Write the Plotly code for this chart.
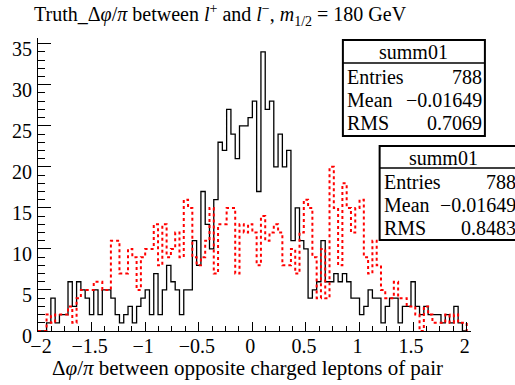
import numpy as np
import plotly.graph_objects as go

# ---- data ----
x_min, x_max, n_bins = -2.0, 2.0, 100
black_counts = [0, 0, 1, 4, 1, 2, 2, 6, 3, 6, 5, 4, 2, 5, 2, 5, 5,
                4, 2, 1, 2, 3, 1, 3, 4, 5, 2, 7, 2, 5, 8, 6, 5, 2, 5,
                5, 11, 8, 17, 13, 10, 16, 23, 22, 27, 24, 21, 25, 25, 26,
                28, 17, 34, 27, 28, 20, 24, 20, 22,
                11, 15, 11, 10, 4, 5, 6, 11, 6, 6, 7, 6, 7, 6, 4, 4, 2, 3, 5, 4, 4, 1, 3, 4, 4,
                1, 3, 3, 6, 3, 2, 3, 2, 2, 2, 1, 2, 1, 3, 1, 0]
red_counts = [0, 0, 2, 1, 2, 2, 2, 3, 1, 4, 5, 5, 5, 6, 6, 5, 5, 11, 11, 7,
              7, 10, 9, 5, 9, 10, 10, 13, 8, 13, 9, 10, 12, 9, 16, 15, 9, 8, 9, 11,
              15, 7, 13, 13, 15, 15, 7, 13, 12, 13, 12, 8, 14, 11, 12, 13, 12, 8, 8, 10,
              7, 12, 16, 15, 9, 4, 10, 4, 20, 15, 8, 18, 15, 12, 15, 16, 9, 7, 11, 8,
              5, 4, 4, 6, 4, 4, 3, 3, 2, 0, 3, 2, 1, 1, 1, 2, 1, 2, 1, 1]
x_ticks = [-2, -1.5, -1, -0.5, 0, 0.5, 1, 1.5, 2]
x_tick_text = ["\u2007\u22122", "\u22121.5", "\u22121", "\u22120.5", "0", "0.5", "1", "1.5", "2"]
y_ticks = [0, 5, 10, 15, 20, 25, 30, 35]
stats_black = {"name": "summ01", "Entries": "788", "Mean": "\u22120.01649", "RMS": "0.7069"}
stats_red = {"name": "summ01", "Entries": "788", "Mean": "\u22120.01649", "RMS": "0.8483"}

edges = np.linspace(x_min, x_max, n_bins + 1)


def step_xy(counts):
    xs = [edges[0]] + list(edges[:-1]) + [edges[-1], edges[-1]]
    ys = [0] + list(counts) + [counts[-1], 0]
    return xs, ys


FONT = "Liberation Serif"
W, H = 515, 385
L, R, T, B = 35, 44, 38, 54
PW, PH = W - L - R, H - T - B


def px(xp):
    return (xp - L) / PW


def py(yp):
    return (H - B - yp) / PH


fig = go.Figure()
bx, by = step_xy(black_counts)
fig.add_trace(go.Scatter(x=bx, y=by, mode="lines", line=dict(shape="hv", color="black", width=1.3),
                         hoverinfo="skip", showlegend=False))
rx, ry = step_xy(red_counts)
fig.add_trace(go.Scatter(x=rx, y=ry, mode="lines", line=dict(shape="hv", color="#ff0000", width=2, dash="dot"),
                         hoverinfo="skip", showlegend=False))

shapes = []
annotations = []


def stat_box(x0, x1, y0, yline, y1, hx, rows_y, lx, vx, st):
    shapes.append(dict(type="rect", xref="paper", yref="paper", x0=px(x0), x1=px(x1), y0=py(y0), y1=py(y1),
                       line=dict(color="black", width=2), fillcolor="white", layer="above"))
    shapes.append(dict(type="line", xref="paper", yref="paper", x0=px(x0), x1=px(x1), y0=py(yline), y1=py(yline),
                       line=dict(color="black", width=1.5), layer="above"))
    f = dict(family=FONT, size=20, color="black")
    annotations.append(dict(text=st["name"], xref="paper", yref="paper", x=px(hx), y=py((y0 + yline) / 2 + 1),
                            xanchor="center", yanchor="middle", showarrow=False, font=f))
    for key, yy in zip(["Entries", "Mean", "RMS"], rows_y):
        annotations.append(dict(text=key, xref="paper", yref="paper", x=px(lx), y=py(yy),
                                xanchor="left", yanchor="middle", showarrow=False, font=f))
        annotations.append(dict(text=st[key], xref="paper", yref="paper", x=px(vx), y=py(yy),
                                xanchor="right", yanchor="middle", showarrow=False, font=f))


stat_box(342, 485, 40, 63, 136, 413, [77, 100, 123], 344, 484, stats_black)
stat_box(379, 523, 146, 168, 240, 443, [182, 205, 228], 381, 518, stats_red)

annotations.append(dict(
    text="Truth_\u0394<i>\u03c6</i>/<i>\u03c0</i> between <i>l</i><sup>+</sup> and <i>l</i><sup>\u2212</sup>, "
         "<i>m</i><sub>1/2</sub> = 180 GeV",
    xref="paper", yref="paper", x=px(29), y=py(15), xanchor="left", yanchor="middle",
    showarrow=False, font=dict(family=FONT, size=20, color="black")))
annotations.append(dict(
    text="\u0394<i>\u03c6</i>/<i>\u03c0</i> between opposite charged leptons of pair",
    xref="paper", yref="paper", x=px(246), y=py(368), xanchor="center", yanchor="middle",
    showarrow=False, font=dict(family=FONT, size=21, color="black")))

fig.update_layout(
    width=W, height=H, margin=dict(l=L, r=R, t=T, b=B),
    paper_bgcolor="white", plot_bgcolor="white",
    font=dict(family=FONT, color="black"),
    shapes=shapes, annotations=annotations, showlegend=False,
    xaxis=dict(range=[-2, 2.04], showline=True, linecolor="black", linewidth=1, mirror=False,
               ticks="inside", ticklen=9, tickwidth=1, tickcolor="black",
               tickvals=x_ticks, ticktext=x_tick_text, showgrid=False, zeroline=False,
               ticklabelstandoff=-3, ticklabelshift=-2,
               minor=dict(ticks="inside", ticklen=5, dtick=0.125, tick0=0, tickcolor="black", showgrid=False),
               tickfont=dict(family=FONT, size=20, color="black")),
    yaxis=dict(range=[0, 35.7], showline=True, linecolor="black", linewidth=1,
               ticks="inside", ticklen=13, tickwidth=1, tickcolor="black",
               tickvals=y_ticks, showgrid=False, zeroline=False,
               minor=dict(ticks="inside", ticklen=7, dtick=1, tick0=0, tickcolor="black", showgrid=False),
               tickfont=dict(family=FONT, size=20, color="black"), ticklabelstandoff=1, ticklabelshift=5),
)

fig.write_html("out.html")
